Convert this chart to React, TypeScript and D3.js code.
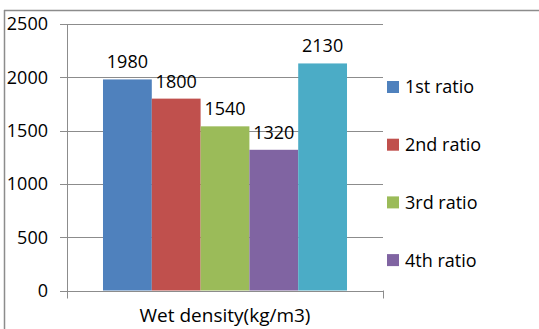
import React from "react";
import * as d3 from "d3";

const categories = ["Wet density(kg/m3)"];
const seriesNames = ["1st ratio", "2nd ratio", "3rd ratio", "4th ratio", "5th ratio"];
const seriesValues = [1980, 1800, 1540, 1320, 2130];
const seriesColors = ["#4F81BD", "#C0504D", "#9BBB59", "#8064A2", "#4BACC6"];
const legendNames = ["1st ratio", "2nd ratio", "3rd ratio", "4th ratio"];
const yTicks = [0, 500, 1000, 1500, 2000, 2500];

const W = 539;
const H = 329;
const plotLeft = 67;
const plotRight = 383;
const plotTop = 24;
const plotBottom = 290.5;
const font = "'Open Sans', sans-serif";

export default function App() {
  const y = d3.scaleLinear().domain([0, 2500]).range([plotBottom, plotTop]);
  const x0 = d3.scaleBand().domain(categories).range([plotLeft, plotRight]).paddingOuter(0.1475).paddingInner(0);
  const x1 = d3.scaleBand().domain(seriesNames).range([0, x0.bandwidth()]).padding(0);
  const grid = "#8c8c8c";
  return (
    <svg width={W} height={H} style={{ position: "absolute", left: 0, top: 0, background: "#fff" }}>
      <line x1={4} y1={10.5} x2={W} y2={10.5} stroke="#8c8c8c" strokeWidth={1.5} />
      <line x1={4.5} y1={10} x2={4.5} y2={H} stroke="#8c8c8c" strokeWidth={1.5} />
      {yTicks.map((t) => (
        <g key={t}>
          <line x1={plotLeft - 7} x2={t === 0 ? plotLeft : plotRight} y1={Math.round(y(t)) + 0.5} y2={Math.round(y(t)) + 0.5} stroke={grid} strokeWidth={1} />
          <text x={48} y={y(t)} dy="0.36em" textAnchor="end" fontFamily={font} fontSize={18} fill="#000">{t}</text>
        </g>
      ))}
      {categories.map((c) => (
        <g key={c} transform={`translate(${x0(c)},0)`}>
          {seriesNames.map((s, i) => (
            <g key={s}>
              <rect x={x1(s)} y={y(seriesValues[i])} width={x1.bandwidth()} height={y(0) - y(seriesValues[i])} fill={seriesColors[i]} />
              <text x={(x1(s) as number) + x1.bandwidth() / 2} y={y(seriesValues[i]) - 11} textAnchor="middle" fontFamily={font} fontSize={18} fill="#000">{seriesValues[i]}</text>
            </g>
          ))}
        </g>
      ))}
      <line x1={plotLeft + 0.5} x2={plotLeft + 0.5} y1={plotTop} y2={plotBottom + 8} stroke={grid} strokeWidth={1} />
      <line x1={plotLeft} x2={plotRight} y1={Math.round(plotBottom) + 0.5} y2={Math.round(plotBottom) + 0.5} stroke={grid} strokeWidth={1} />
      <line x1={plotRight + 0.5} x2={plotRight + 0.5} y1={plotBottom} y2={plotBottom + 8} stroke={grid} strokeWidth={1} />
      {categories.map((c) => (
        <text key={c} x={(x0(c) as number) + x0.bandwidth() / 2} y={322} textAnchor="middle" fontFamily={font} fontSize={19} fill="#000">{c}</text>
      ))}
      {legendNames.map((n, i) => (
        <g key={n} transform={`translate(387, ${87 + i * 57.7})`}>
          <rect x={0} y={-6} width={12} height={12} fill={seriesColors[i]} />
          <text x={18} y={0} dy="0.36em" fontFamily={font} fontSize={18} fill="#000">{n}</text>
        </g>
      ))}
    </svg>
  );
}
